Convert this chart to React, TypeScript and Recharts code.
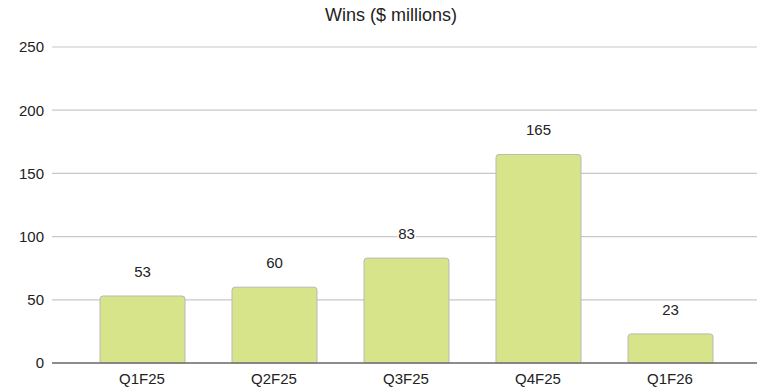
import React from 'react';
import { BarChart, Bar, XAxis, YAxis, CartesianGrid, LabelList } from 'recharts';

const quarters = ['Q1F25', 'Q2F25', 'Q3F25', 'Q4F25', 'Q1F26'];
const wins = [53, 60, 83, 165, 23];
const yTicks = [0, 50, 100, 150, 200, 250];

const data = quarters.map((quarter, i) => ({ quarter, wins: wins[i] }));

const FONT = '"Liberation Sans", Arial, sans-serif';

export default function App() {
  return (
    <div style={{ position: 'absolute', left: 0, top: 0, width: 767, height: 390, background: '#fff', fontFamily: FONT }}>
      <div
        style={{
          position: 'absolute',
          top: 5,
          left: 15,
          width: 752,
          textAlign: 'center',
          fontSize: 18,
          lineHeight: 'normal',
          color: '#222',
        }}
      >
        Wins ($ millions)
      </div>
      <BarChart
        width={767}
        height={390}
        data={data}
        margin={{ top: 47, right: 10, bottom: 0, left: 0 }}
      >
        <CartesianGrid vertical={false} stroke="#c8c8c8" strokeWidth={1.2} />
        <XAxis
          dataKey="quarter"
          height={27}
          padding={{ left: 24, right: 21 }}
          tickLine={false}
          tickSize={0}
          tickMargin={10}
          axisLine={{ stroke: '#6f6f6f', strokeWidth: 1.5 }}
          tick={{ fill: '#222', fontSize: 15, fontFamily: FONT }}
        />
        <YAxis
          width={52}
          domain={[0, 250]}
          ticks={yTicks}
          axisLine={false}
          tickLine={false}
          tickSize={0}
          tickMargin={8}
          tick={{ fill: '#222', fontSize: 15, fontFamily: FONT }}
        />
        <Bar
          dataKey="wins"
          fill="#d8e48a"
          stroke="#b9b9b9"
          strokeWidth={1}
          barSize={85}
          radius={[3, 3, 0, 0]}
          isAnimationActive={false}
        >
          <LabelList
            dataKey="wins"
            position="top"
            offset={19}
            fill="#222"
            fontSize={15}
            fontFamily={FONT}
            stroke="#fff"
            strokeWidth={3}
            paintOrder="stroke"
          />
        </Bar>
      </BarChart>
    </div>
  );
}
